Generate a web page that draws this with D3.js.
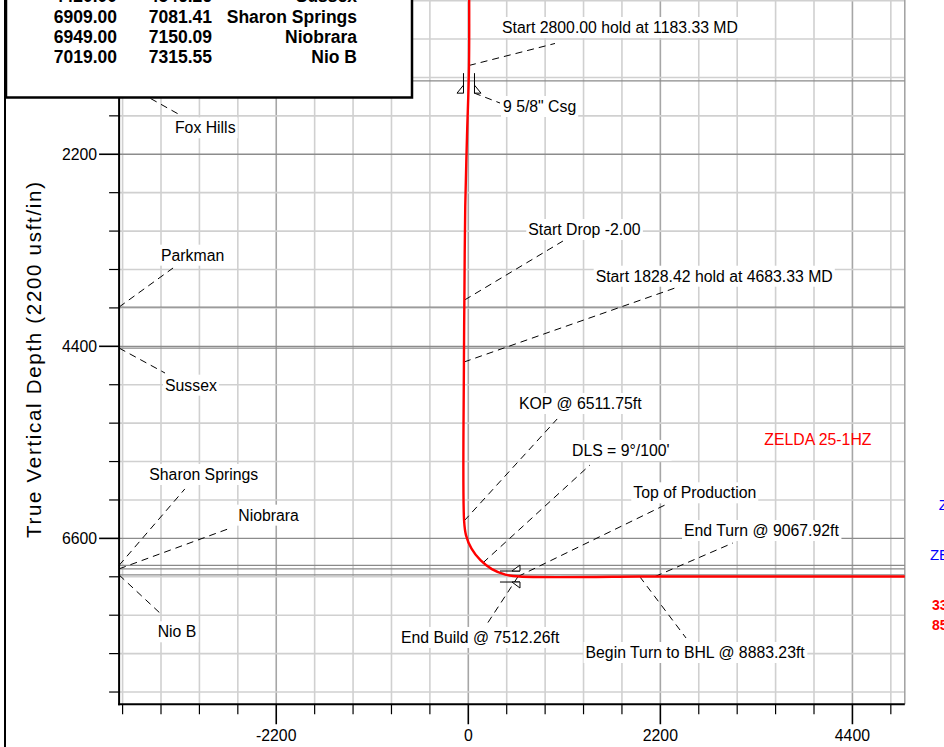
<!DOCTYPE html>
<html><head><meta charset="utf-8">
<script src="https://cdn.jsdelivr.net/npm/d3@7"></script>
<style>body{margin:0;background:#fff;overflow:hidden} svg{display:block}</style>
</head><body><svg id="c" width="944" height="747"></svg>
<script>
// ---------- data ----------
const formationNames = ["Fox Hills", "Parkman", "Sussex", "Sharon Springs", "Niobrara", "Nio B"];
const formationTVD   = [1360, 3950, 4420, 6909, 6949, 7019];
const formationMD    = [1362.10, 4012.48, 4546.26, 7081.41, 7150.09, 7315.55];

// well path (vertical section, TVD)
const wellVS  = [8, 8, -15, -35, -45, -50, -48, -26, 37, 139, 270, 424, 589, 1963, 2139, 5600];
const wellTVD = [0, 1183, 2000, 2800, 3869, 4580, 6400, 6565, 6718, 6850, 6952, 7015, 7037, 7037, 7037, 7037];

const casingNames = ['9 5/8" Csg', 'Prod Csg'];
const casingVS    = [8, 592];
const casingTVD   = [1500, 7037];
const casingDir   = ["v", "h"];

const annoText = ["Start 2800.00 hold at 1183.33 MD", '9 5/8" Csg', "Fox Hills", "Parkman", "Sussex",
  "Sharon Springs", "Niobrara", "Nio B", "Start Drop -2.00", "Start 1828.42 hold at 4683.33 MD",
  "KOP @ 6511.75ft", "DLS = 9°/100'", "Top of Production", "End Turn @ 9067.92ft",
  "End Build @ 7512.26ft", "Begin Turn to BHL @ 8883.23ft"];
const annoVS   = [8, 65, -4000, -4000, -4000, -4000, -4000, -4000, -42, -50, -48, 168, 569, 2139, 570, 1963];
const annoTVD  = [1183, 1498, 1360, 3950, 4420, 6909, 6949, 7019, 3869, 4580, 6400, 6880, 7037, 7037, 7037, 7037];
const leadVS   = [993, 363, -3302, -3382, -3474, -3247, -2755, -3508, 1084, 2368, 1018, 1394, 2252, 3030, 214, 2494];
const leadTVD  = [931, 1613, 1750, 3503, 4706, 6034, 6493, 7478, 3194, 3732, 5232, 5759, 6218, 6653, 7581, 7741];
const textVS   = [386, 397, -3360, -3520, -3474, -3654, -2635, -3558, 687, 1459, 581, 1188, 1890, 2471, -771, 1343];
const textTVD  = [811, 1716, 1960, 3419, 4908, 5931, 6397, 7733, 3125, 3660, 5118, 5656, 6141, 6573, 7798, 7970];

const wellName = "ZELDA 25-1HZ";
const wellNameVS = 3391, wellNameTVD = 5530;

const xTickLabels = [-2200, 0, 2200, 4400];
const yTickLabels = [2200, 4400, 6600];
const tickStep = 440;
const xDomain = [-4000, 5000];
const yDomain = [0, 8500];

// ---------- layout ----------
const svg = d3.select("#c");
const x = d3.scaleLinear().domain(xDomain).range([119.1, 904.8]);
const y = d3.scaleLinear().domain(yDomain).range([-37.8, 704.25]);
const FONT = "'Liberation Sans', Arial, sans-serif";
const FS = 15.8;

const minorX = d3.range(-3960, 5000, tickStep);
const minorY = d3.range(440, 8500, tickStep);

const grid = svg.append("g");
grid.selectAll(".vx").data(minorX).join("line")
  .attr("x1", d => x(d)).attr("x2", d => x(d)).attr("y1", y(yDomain[0])).attr("y2", y(yDomain[1]))
  .attr("stroke", d => d % 2200 === 0 ? "#a6a6a6" : "#d0d0d0").attr("stroke-width", 1.6);
grid.selectAll(".hy").data(minorY).join("line")
  .attr("x1", x(xDomain[0])).attr("x2", x(xDomain[1])).attr("y1", d => y(d)).attr("y2", d => y(d))
  .attr("stroke", d => d % 2200 === 0 ? "#8c8c8c" : "#d0d0d0").attr("stroke-width", d => d % 2200 === 0 ? 1.3 : 1.6);
grid.append("line").attr("x1", x(xDomain[1])).attr("x2", x(xDomain[1]))
  .attr("y1", y(yDomain[0])).attr("y2", y(yDomain[1])).attr("stroke", "#a0a0a0").attr("stroke-width", 1.5);

// formation lines
grid.selectAll(".fm").data(formationTVD).join("line")
  .attr("x1", x(xDomain[0])).attr("x2", x(xDomain[1])).attr("y1", d => y(d)).attr("y2", d => y(d))
  .attr("stroke", "#8a8a8a").attr("stroke-width", 1.2);

// axes
const ax = svg.append("g");
ax.append("line").attr("x1", x(xDomain[0])).attr("x2", x(xDomain[0])).attr("y1", y(yDomain[0])).attr("y2", y(yDomain[1]) + 1)
  .attr("stroke", "#000").attr("stroke-width", 2);
ax.append("line").attr("x1", x(xDomain[0]) - 1).attr("x2", x(xDomain[1])).attr("y1", y(yDomain[1])).attr("y2", y(yDomain[1]))
  .attr("stroke", "#000").attr("stroke-width", 2);
ax.selectAll(".yt").data(minorY.filter(d => d < yDomain[1])).join("line")
  .attr("x1", d => x(xDomain[0]) - (yTickLabels.includes(d) ? 20 : 10)).attr("x2", x(xDomain[0]))
  .attr("y1", d => y(d)).attr("y2", d => y(d)).attr("stroke", "#000").attr("stroke-width", d => yTickLabels.includes(d) ? 1.6 : 1.2);
ax.selectAll(".ytl").data(yTickLabels).join("text")
  .attr("x", x(xDomain[0]) - 22).attr("y", d => y(d) + 5.6).attr("text-anchor", "end")
  .attr("font-family", FONT).attr("font-size", FS).text(d => d);
ax.selectAll(".xt").data(minorX).join("line")
  .attr("x1", d => x(d)).attr("x2", d => x(d))
  .attr("y1", y(yDomain[1])).attr("y2", d => y(yDomain[1]) + (xTickLabels.includes(d) ? 20 : 10))
  .attr("stroke", "#000").attr("stroke-width", d => xTickLabels.includes(d) ? 1.6 : 1.2);
ax.selectAll(".xtl").data(xTickLabels).join("text")
  .attr("x", d => x(d)).attr("y", y(yDomain[1]) + 37).attr("text-anchor", "middle")
  .attr("font-family", FONT).attr("font-size", FS).text(d => d);

// y-axis title
svg.append("text").attr("transform", "translate(41,360) rotate(-90)")
  .attr("text-anchor", "middle").attr("font-family", FONT).attr("font-size", 20.5)
  .attr("textLength", 356).attr("lengthAdjust", "spacing")
  .text("True Vertical Depth (2200 usft/in)");

// leaders
const lead = svg.append("g");
annoText.forEach((t, i) => {
  lead.append("line")
    .attr("x1", x(annoVS[i])).attr("y1", y(annoTVD[i]))
    .attr("x2", x(leadVS[i])).attr("y2", y(leadTVD[i]))
    .attr("stroke", "#000").attr("stroke-width", 1).attr("stroke-dasharray", "7,5");
});

// labels with white background
const lab = svg.append("g");
annoText.forEach((t, i) => {
  const g = lab.append("g");
  const r = g.append("rect").attr("fill", "#fff");
  const tx = g.append("text").attr("x", x(textVS[i])).attr("y", y(textTVD[i]))
    .attr("font-family", FONT).attr("font-size", FS).attr("fill", "#000").text(t);
  const b = tx.node().getBBox();
  r.attr("x", b.x - 2).attr("y", b.y - 2).attr("width", b.width + 4).attr("height", b.height + 4);
});

// well path
const line = d3.line().x(d => x(d[0])).y(d => y(d[1])).curve(d3.curveCatmullRom.alpha(0.5));
svg.append("defs").append("clipPath").attr("id", "plotclip").append("rect")
  .attr("x", x(xDomain[0])).attr("y", y(yDomain[0])).attr("width", x(xDomain[1]) - x(xDomain[0]))
  .attr("height", y(yDomain[1]) - y(yDomain[0]));
svg.append("path").attr("clip-path", "url(#plotclip)")
  .datum(wellVS.map((v, i) => [v, wellTVD[i]]))
  .attr("d", line).attr("fill", "none").attr("stroke", "#ff0000").attr("stroke-width", 2.4);

// casing symbols
const cs = svg.append("g").attr("stroke", "#000").attr("stroke-width", 1).attr("fill", "#fff");
casingVS.forEach((v, i) => {
  const cx = x(v), cy = y(casingTVD[i]);
  if (casingDir[i] === "v") {
    [-5.5, 5.5].forEach(o => {
      cs.append("line").attr("x1", cx + o).attr("x2", cx + o).attr("y1", cy - 20).attr("y2", cy);
      cs.append("path").attr("d", `M${cx + o},${cy - 8}L${cx + o},${cy}L${cx + o + (o < 0 ? -6.5 : 6.5)},${cy}Z`);
    });
  } else {
    [-5.5, 5.5].forEach(o => {
      cs.append("line").attr("x1", cx - 20).attr("x2", cx).attr("y1", cy + o).attr("y2", cy + o);
      cs.append("path").attr("d", `M${cx - 8},${cy + o}L${cx},${cy + o}L${cx},${cy + o + (o < 0 ? -6 : 6)}Z`);
    });
  }
});

// well name
svg.append("text").attr("x", x(wellNameVS)).attr("y", y(wellNameTVD))
  .attr("font-family", FONT).attr("font-size", FS).attr("fill", "#ff0000").text(wellName);

// cut-off side texts at right edge (as in the reference)
const sideText = ["ZELDA", "ZELDA", "33", "85"];
const sideVS = [5390, 5288, 5311, 5311];
const sideTVD = [6275, 6848, 7420, 7649];
const sideColor = ["#0000ff", "#0000ff", "#ff0000", "#ff0000"];
const sideBold = [false, false, true, true];
sideText.forEach((t, i) => {
  svg.append("text").attr("x", x(sideVS[i])).attr("y", y(sideTVD[i]))
    .attr("font-family", FONT).attr("font-size", sideBold[i] ? 14 : 15)
    .attr("font-weight", sideBold[i] ? "bold" : "normal").attr("fill", sideColor[i]).text(t);
});

// outer left frame
svg.append("line").attr("x1", 5).attr("x2", 5).attr("y1", 0).attr("y2", 747).attr("stroke", "#000").attr("stroke-width", 2);

// legend box (formation table)
const lg = svg.append("g");
lg.append("rect").attr("x", 6).attr("y", -90).attr("width", 406).attr("height", 187.5)
  .attr("fill", "#fff").attr("stroke", "#000").attr("stroke-width", 2.5);
const nF = formationNames.length;
formationNames.forEach((n, i) => {
  const by = 63.3 - (nF - 1 - i) * 20.3;
  const common = t => t.attr("font-family", FONT).attr("font-size", 17.5).attr("font-weight", "bold").attr("text-anchor", "end").attr("y", by);
  common(lg.append("text")).attr("x", 117).text(formationTVD[i].toFixed(2));
  common(lg.append("text")).attr("x", 212).text(formationMD[i].toFixed(2));
  common(lg.append("text")).attr("x", 357).text(n);
});
</script></body></html>
